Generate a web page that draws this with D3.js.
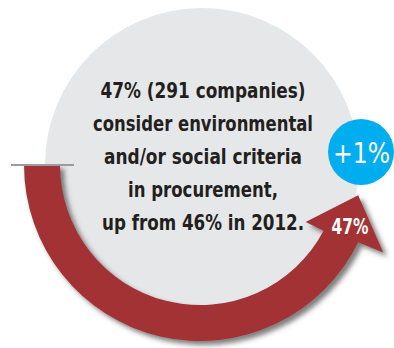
<!DOCTYPE html>
<html>
<head>
<meta charset="utf-8">
<script src="https://cdn.jsdelivr.net/npm/d3@7"></script>
<style>
  html, body { margin: 0; padding: 0; background: #ffffff; }
  svg { display: block; }
</style>
</head>
<body>
<script>
// ---- data ----
const shareValues = [47];          // % of companies in current year
const previousValues = [46];       // % in 2012
const changeLabels = ["+1%"];
const valueLabels = ["47%"];
const textLines = [
  "47% (291 companies)",
  "consider environmental",
  "and/or social criteria",
  "in procurement,",
  "up from 46% in 2012."
];
const lineWidths = [205, 220, 198, 150, 202];

// ---- layout ----
const W = 394, H = 348;
const cx = 200, cy = 165;
const bgR = 157, bgCx = 202;
const rIn = 140, rOut = 176;
const headDeg = 16;

const svg = d3.select("body").append("svg").attr("width", W).attr("height", H);
const defs = svg.append("defs");
const f = defs.append("filter").attr("id", "shadow")
  .attr("x", "-20%").attr("y", "-20%").attr("width", "140%").attr("height", "140%");
f.append("feDropShadow").attr("dx", 4).attr("dy", 4).attr("stdDeviation", 2.6)
  .attr("flood-color", "#3a3a3a").attr("flood-opacity", 0.65);

// angle scale: value in percent -> d3 angle (0 = up, clockwise), starting at 9 o'clock going anticlockwise
const angle = d3.scaleLinear().domain([0, 100]).range([1.5 * Math.PI, -0.5 * Math.PI]);
const deg = Math.PI / 180;
const polar = (a, r) => [cx + r * Math.sin(a), cy - r * Math.cos(a)];

// background circle
svg.append("circle").attr("cx", bgCx).attr("cy", cy).attr("r", bgR).attr("fill", "#e6e7e8");

// arrow ring
const v = shareValues[0];
const tipA = angle(v);
const baseA = tipA + headDeg * deg;
const g = svg.append("g").attr("filter", "url(#shadow)");
const p = d3.path();
const a0 = angle(0);
const outerEndA = baseA - 0.8 * deg, innerEndA = baseA + 1.2 * deg;
const toCanvas = a => a - Math.PI / 2;
let s = polar(a0, rOut);
p.moveTo(s[0], s[1]);
p.arc(cx, cy, rOut, toCanvas(a0), toCanvas(outerEndA), true);
const rb = polar(baseA - 1.3 * deg, 203);
const tip = polar(tipA, (rIn + rOut) / 2 + 3);
const lb = polar(baseA + 1.5 * deg, 120);
p.lineTo(rb[0], rb[1]);
p.lineTo(tip[0], tip[1]);
p.lineTo(lb[0], lb[1]);
const ie = polar(innerEndA, rIn);
p.lineTo(ie[0], ie[1]);
p.arc(cx, cy, rIn, toCanvas(innerEndA), toCanvas(a0), false);
p.closePath();
g.append("path").attr("d", p.toString()).attr("fill", "#a33235");

// start marker line
svg.append("line")
  .attr("x1", cx - rOut - 13).attr("x2", cx - rIn + 14)
  .attr("y1", cy).attr("y2", cy)
  .attr("stroke", "#9a9c9f").attr("stroke-width", 2);

// central text
const fontFam = "'Liberation Sans Narrow', 'DejaVu Sans Condensed', 'Roboto', sans-serif";
svg.append("g").selectAll("text").data(textLines).join("text")
  .attr("x", 203)
  .attr("y", (d, i) => 98 + i * 33)
  .attr("text-anchor", "middle")
  .attr("font-family", fontFam)
  .attr("font-weight", "bold")
  .attr("font-size", 22)
  .attr("fill", "#231f20")
  .attr("textLength", (d, i) => lineWidths[i])
  .attr("lengthAdjust", "spacingAndGlyphs")
  .text(d => d);

// change bubble
svg.append("circle").attr("cx", 361).attr("cy", 152).attr("r", 33).attr("fill", "#00aeef");
svg.append("text").attr("x", 361.5).attr("y", 163)
  .attr("text-anchor", "middle")
  .attr("font-family", fontFam)
  .attr("font-size", 29)
  .attr("fill", "#ffffff")
  .attr("textLength", 57).attr("lengthAdjust", "spacingAndGlyphs")
  .text(changeLabels[0]);

// value label in arrow head
svg.append("text").attr("x", 350).attr("y", 234)
  .attr("text-anchor", "middle")
  .attr("font-family", fontFam)
  .attr("font-weight", "bold")
  .attr("font-size", 21)
  .attr("fill", "#ffffff")
  .attr("textLength", 37).attr("lengthAdjust", "spacingAndGlyphs")
  .text(valueLabels[0]);
</script>
</body>
</html>
